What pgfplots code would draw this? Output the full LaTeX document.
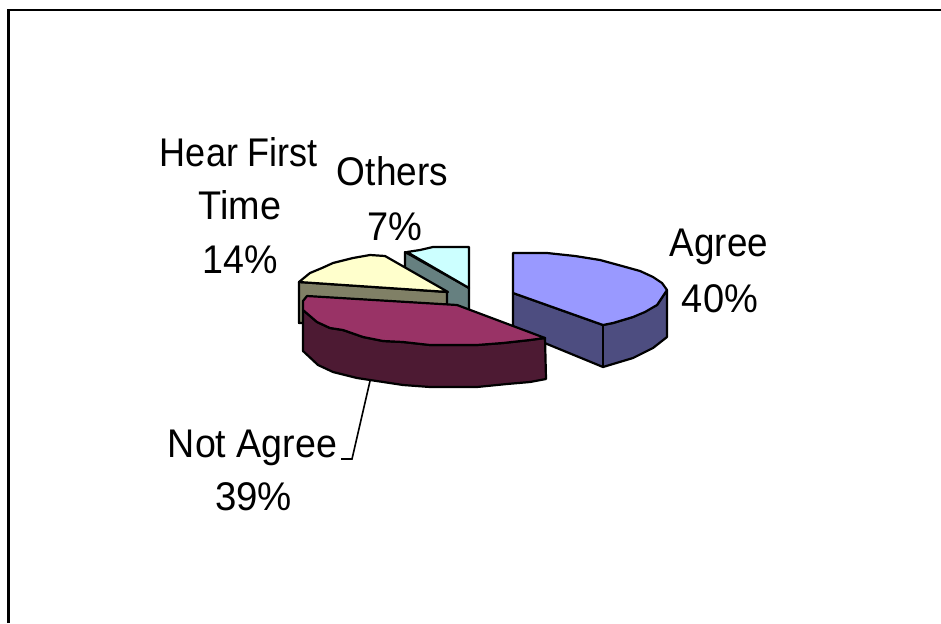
\documentclass[border=0pt]{standalone}
\usepackage{fontspec}
\setmainfont{Liberation Sans}
\usepackage{pgfplots}
\pgfplotsset{compat=1.18}
\tikzset{
    slice/.style={draw=black, line width=2.2pt, line join=round, mark=none},
    lbl/.style={font=\fontsize{40}{48}\selectfont, anchor=base, inner sep=0pt, text=black},
}
% one label line, narrowed: the reference's glyphs are tall and tightly spaced
\newcommand{\lbltxt}[2]{\scalebox{#1}[1]{#2}}
\begin{document}
\begin{tikzpicture}
\begin{axis}[
    scale only axis,
    width=941pt, height=623pt,
    xmin=0, xmax=941, ymin=0, ymax=623,
    y dir=reverse,
    hide axis,
    clip=true,
    axis background/.style={fill=white},
]
% frame
\addplot[draw=black, line width=2.6pt, mark=none] coordinates {(8.5,623) (8.5,10) (941,10)};
% Agree
\addplot[slice, fill={rgb,255:red,77;green,77;blue,128}] coordinates {
  (513,293) (603,325) (613,323) (633,317) (657,305) (667,290) (667,337) (653,348) (633,358) (613,364) (603,367) (513,330)} -- cycle;
\addplot[slice] coordinates {(603,325) (603,367)};
\addplot[slice, fill={rgb,255:red,153;green,153;blue,255}] coordinates {
  (513,253) (547,253) (575,256) (600,260) (622,266) (640,271) (653,277) (662,283) (667,290) (657,305) (645,312) (633,317) (613,323) (603,325) (513,293)} -- cycle;
% Others
\addplot[slice, fill={rgb,255:red,102;green,128;blue,128}] coordinates {
  (405,252) (469,288) (469,320) (405,300)} -- cycle;
\addplot[slice, fill={rgb,255:red,204;green,255;blue,255}] coordinates {
  (407,252) (420,250) (433,247) (469,247) (469,288)} -- cycle;
% Hear First Time
\addplot[slice, fill={rgb,255:red,128;green,128;blue,102}] coordinates {
  (299,282) (447,292) (447,320) (299,323)} -- cycle;
\addplot[slice, fill={rgb,255:red,255;green,255;blue,204}] coordinates {
  (299,282) (310,273) (322,268) (333,263) (353,258) (370,255) (385,256) (448,292)} -- cycle;
% Not Agree
\addplot[slice, fill={rgb,255:red,77;green,26;blue,51}] coordinates {
  (303,310) (317,322) (330,328) (343,330) (363,337) (383,341) (403,342) (430,345) (477,345) (503,343) (530,340) (545,338) (546,379) (530,382) (507,384) (477,387) (430,387) (403,385) (370,380) (357,378) (333,372) (318,365) (303,351)} -- cycle;
\addplot[slice, fill={rgb,255:red,153;green,51;blue,102}] coordinates {
  (307,296) (457,305) (545,338) (530,340) (503,343) (477,345) (430,345) (403,342) (383,341) (363,337) (343,330) (330,328) (317,322) (303,310) (303,301)} -- cycle;
% leader
\addplot[draw=black, line width=1.6pt, mark=none] coordinates {(370,381) (352,459) (341,459)};
% labels
\node[lbl] at (axis cs:239,166) {\lbltxt{0.90}{Hear First}};
\node[lbl] at (axis cs:240,219) {\lbltxt{0.945}{Time}};
\node[lbl] at (axis cs:240.5,273) {\lbltxt{0.94}{14\%}};
\node[lbl] at (axis cs:392.5,185) {\lbltxt{0.925}{Others}};
\node[lbl] at (axis cs:394.5,240) {\lbltxt{0.95}{7\%}};
\node[lbl] at (axis cs:719,256) {\lbltxt{0.92}{Agree}};
\node[lbl] at (axis cs:720,312) {\lbltxt{0.95}{40\%}};
\node[lbl] at (axis cs:252.5,457) {\lbltxt{0.94}{Not Agree}};
\node[lbl] at (axis cs:253.5,510) {\lbltxt{0.96}{39\%}};
\end{axis}
\end{tikzpicture}
\end{document}
